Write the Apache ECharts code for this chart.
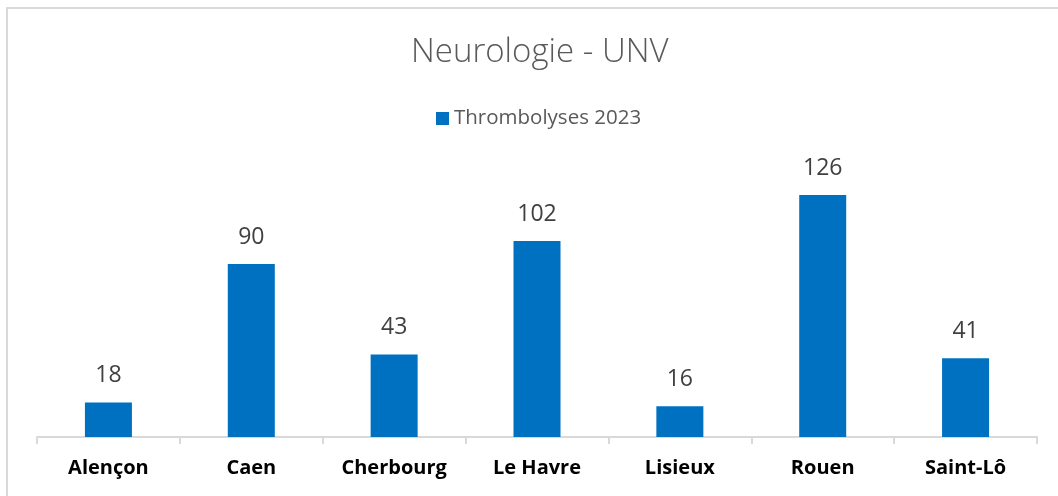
<!DOCTYPE html>
<html>
<head>
<meta charset="utf-8">
<script src="https://cdn.jsdelivr.net/npm/echarts@6/dist/echarts.min.js"></script>
<style>
  html, body { margin: 0; padding: 0; background: #fff; }
  #chart { width: 1058px; height: 496px; }
</style>
</head>
<body>
<div id="chart"></div>
<script>
const categories = ['Alençon', 'Caen', 'Cherbourg', 'Le Havre', 'Lisieux', 'Rouen', 'Saint-Lô'];
const thrombolyses2023 = [18, 90, 43, 102, 16, 126, 41];
const seriesName = 'Thrombolyses 2023';
const chartTitle = 'Neurologie - UNV';

const chart = echarts.init(document.getElementById('chart'), null, { renderer: 'canvas' });

chart.setOption({
  animation: false,
  title: {
    text: chartTitle,
    left: 406,
    top: 31,
    textStyle: {
      fontFamily: 'Open Sans',
      fontWeight: 300,
      fontSize: 33,
      color: '#595959'
    }
  },
  legend: {
    top: 103,
    left: 431,
    itemWidth: 13,
    itemHeight: 13,
    itemGap: 6,
    icon: 'rect',
    textStyle: {
      fontFamily: 'Open Sans',
      fontSize: 20.5,
      color: '#595959'
    },
    data: [seriesName]
  },
  // cadre gris du graphique
  graphic: [{
    type: 'rect',
    shape: { x: 7, y: 8, width: 1100, height: 600 },
    style: { fill: 'none', stroke: '#d9d9d9', lineWidth: 2 },
    silent: true
  }],
  grid: {
    top: 168,
    left: 37,
    right: 21,
    bottom: 59,
    containLabel: false
  },
  xAxis: {
    type: 'category',
    data: categories,
    axisLine: { lineStyle: { color: '#d9d9d9', width: 2 } },
    axisTick: { show: true, length: 7, lineStyle: { color: '#d9d9d9', width: 2 } },
    axisLabel: {
      margin: 21,
      fontFamily: 'Open Sans',
      fontWeight: 'bold',
      fontSize: 20,
      color: '#000'
    }
  },
  yAxis: {
    type: 'value',
    min: 0,
    max: 140,
    show: false
  },
  series: [{
    name: seriesName,
    type: 'bar',
    data: thrombolyses2023,
    barWidth: 47,
    itemStyle: { color: '#0070c0' },
    label: {
      show: true,
      position: 'top',
      distance: 15,
      fontFamily: 'Open Sans',
      fontSize: 23,
      color: '#404040'
    }
  }]
});
</script>
</body>
</html>
